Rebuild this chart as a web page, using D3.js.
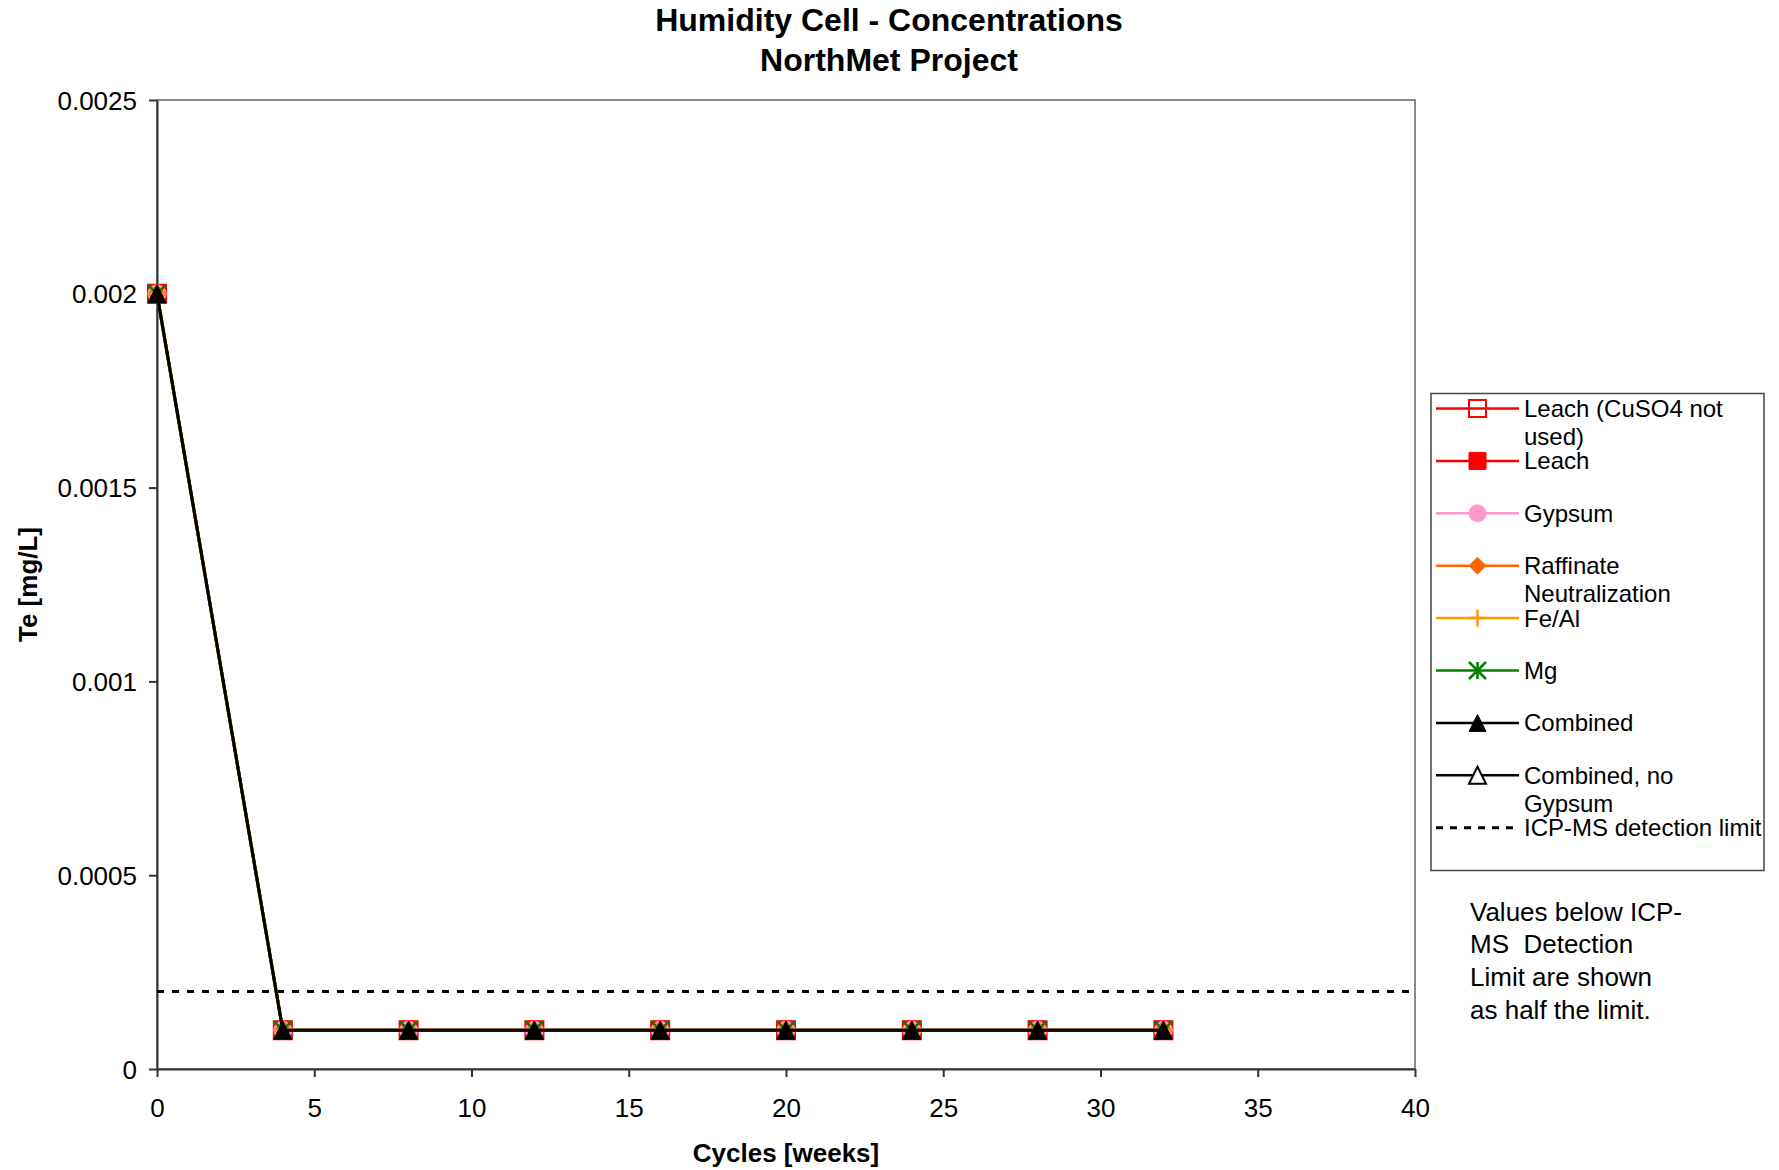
<!DOCTYPE html>
<html><head><meta charset="utf-8">
<script src="https://cdn.jsdelivr.net/npm/d3@7"></script>
<style>
body{margin:0;background:#fff}
svg{display:block;font-family:"Liberation Sans",Arial,Helvetica,sans-serif}
</style>
</head><body>
<svg id="chart" width="1779" height="1170"></svg>
<script>
// ---------- data ----------
const weeks = [0, 4, 8, 12, 16, 20, 24, 28, 32];
const leachNoCuSO4 = [0.002, 0.0001, 0.0001, 0.0001, 0.0001, 0.0001, 0.0001, 0.0001, 0.0001];
const leach        = [0.002, 0.0001, 0.0001, 0.0001, 0.0001, 0.0001, 0.0001, 0.0001, 0.0001];
const gypsum       = [0.002, 0.0001, 0.0001, 0.0001, 0.0001, 0.0001, 0.0001, 0.0001, 0.0001];
const raffinate    = [0.002, 0.0001, 0.0001, 0.0001, 0.0001, 0.0001, 0.0001, 0.0001, 0.0001];
const feAl         = [0.002, 0.0001, 0.0001, 0.0001, 0.0001, 0.0001, 0.0001, 0.0001, 0.0001];
const mg           = [0.002, 0.0001, 0.0001, 0.0001, 0.0001, 0.0001, 0.0001, 0.0001, 0.0001];
const combined     = [0.002, 0.0001, 0.0001, 0.0001, 0.0001, 0.0001, 0.0001, 0.0001, 0.0001];
const combinedNoGypsum = [];
const detectionLimitX = [0, 40];
const detectionLimitY = [0.0002, 0.0002];

const xTicks = [0, 5, 10, 15, 20, 25, 30, 35, 40];
const yTicks = [0, 0.0005, 0.001, 0.0015, 0.002, 0.0025];
const yTickLabels = ["0", "0.0005", "0.001", "0.0015", "0.002", "0.0025"];

const seriesNames = ["Leach (CuSO4 not|used)", "Leach", "Gypsum", "Raffinate|Neutralization", "Fe/Al", "Mg", "Combined", "Combined, no|Gypsum"];
const seriesValues = [leachNoCuSO4, leach, gypsum, raffinate, feAl, mg, combined, combinedNoGypsum];
const seriesColors = ["#FF0000", "#FF0000", "#FF99CC", "#FF6600", "#FF9900", "#008000", "#000000", "#000000"];
const seriesMarkers = ["squareOpen", "square", "circle", "diamond", "plus", "star", "triangle", "triangleOpen"];
const noteLines = ["Values below ICP-", "MS  Detection", "Limit are shown", "as half the limit."];

// ---------- layout ----------
const svg = d3.select("#chart");
const P = {left: 157, right: 1415, top: 100, bottom: 1069};

const x = d3.scaleLinear().domain([0, 40]).range([P.left, P.right]);
const y = d3.scaleLinear().domain([0, 0.0025]).range([P.bottom, P.top]);

svg.append("rect").attr("width", 1779).attr("height", 1170).attr("fill", "#fff");

// plot border
svg.append("rect").attr("x", P.left).attr("y", P.top)
  .attr("width", P.right - P.left).attr("height", P.bottom - P.top)
  .attr("fill", "#fff").attr("stroke", "#888").attr("stroke-width", 2);

// axes
const yAxis = svg.append("g").attr("transform", `translate(${P.left},0)`)
  .call(d3.axisLeft(y).tickValues(yTicks).tickFormat((d, i) => yTickLabels[i]).tickSize(8).tickPadding(12).tickSizeOuter(0));
const xAxis = svg.append("g").attr("transform", `translate(0,${P.bottom})`)
  .call(d3.axisBottom(x).tickValues(xTicks).tickFormat(d3.format("d")).tickSize(8).tickPadding(22).tickSizeOuter(0));
[yAxis, xAxis].forEach(a => {
  a.selectAll("path.domain").attr("stroke", "#333").attr("stroke-width", 2);
  a.selectAll(".tick line").attr("stroke", "#333").attr("stroke-width", 2);
  a.selectAll("text").attr("font-size", 26).attr("fill", "#000").attr("font-family", "Liberation Sans, Arial, sans-serif");
});
yAxis.selectAll("text").attr("dy", "0.35em");

// ---------- markers ----------
function markerPath(type, s) {
  const h = s / 2;
  switch (type) {
    case "square": case "squareOpen":
      return `M${-h},${-h}H${h}V${h}H${-h}Z`;
    case "circle":
      return d3.symbol(d3.symbolCircle, Math.PI * h * h)();
    case "diamond":
      return `M0,${-h}L${h},0L0,${h}L${-h},0Z`;
    case "triangle": case "triangleOpen":
      return `M0,${-h}L${h},${h}L${-h},${h}Z`;
    case "plus":
      return `M0,${-h}V${h}M${-h},0H${h}`;
    case "star":
      return `M${-h},${-h}L${h},${h}M${-h},${h}L${h},${-h}M0,${-h}V${h}`;
  }
}
function drawMarker(g, type, color, s, cx, cy) {
  const p = g.append("path").attr("d", markerPath(type, s)).attr("transform", `translate(${cx},${cy})`);
  if (type === "squareOpen" || type === "triangleOpen") {
    p.attr("fill", type === "triangleOpen" ? "#fff" : "none").attr("stroke", color).attr("stroke-width", 2);
  } else if (type === "plus" || type === "star") {
    p.attr("fill", "none").attr("stroke", color).attr("stroke-width", 2.5);
  } else {
    p.attr("fill", color).attr("stroke", color).attr("stroke-width", 1);
  }
}

// detection limit line
const line = d3.line().x(d => x(d[0])).y(d => y(d[1]));
svg.append("path").datum(detectionLimitX.map((v, i) => [v, detectionLimitY[i]]))
  .attr("d", line).attr("fill", "none").attr("stroke", "#000")
  .attr("stroke-width", 3).attr("stroke-dasharray", "7,8");

// series
const plotG = svg.append("g");
seriesValues.forEach((vals, si) => {
  if (!vals.length) return;
  const pts = vals.map((v, i) => [weeks[i], v]);
  plotG.append("path").datum(pts).attr("d", line).attr("fill", "none")
    .attr("stroke", seriesColors[si]).attr("stroke-width", 3);
  pts.forEach(p => drawMarker(plotG, seriesMarkers[si], seriesColors[si], 18, x(p[0]), y(p[1])));
});

// ---------- titles ----------
svg.append("text").attr("x", 889).attr("y", 31).attr("text-anchor", "middle")
  .attr("font-size", 32).attr("font-weight", "bold").text("Humidity Cell - Concentrations");
svg.append("text").attr("x", 889).attr("y", 71).attr("text-anchor", "middle")
  .attr("font-size", 32).attr("font-weight", "bold").text("NorthMet Project");
svg.append("text").attr("x", (P.left + P.right) / 2).attr("y", 1162).attr("text-anchor", "middle")
  .attr("font-size", 26).attr("font-weight", "bold").text("Cycles [weeks]");
svg.append("text").attr("transform", `translate(37,${(P.top + P.bottom) / 2}) rotate(-90)`)
  .attr("text-anchor", "middle").attr("font-size", 26).attr("font-weight", "bold").text("Te [mg/L]");

// ---------- legend ----------
const L = {x: 1431, y: 393.5, w: 333, h: 477, row0: 408.5, step: 52.4};
svg.append("rect").attr("x", L.x).attr("y", L.y).attr("width", L.w).attr("height", L.h)
  .attr("fill", "#fff").attr("stroke", "#444").attr("stroke-width", 1.5);
const legG = svg.append("g");
const legendNames = seriesNames.concat(["ICP-MS detection limit"]);
legendNames.forEach((name, i) => {
  const cy = L.row0 + i * L.step;
  if (i < seriesNames.length) {
    legG.append("line").attr("x1", 1436).attr("x2", 1519).attr("y1", cy).attr("y2", cy)
      .attr("stroke", seriesColors[i]).attr("stroke-width", 2.5);
    drawMarker(legG, seriesMarkers[i], seriesColors[i], 17, 1477.5, cy);
  } else {
    legG.append("line").attr("x1", 1436).attr("x2", 1519).attr("y1", cy).attr("y2", cy)
      .attr("stroke", "#000").attr("stroke-width", 3).attr("stroke-dasharray", "7,7");
  }
  const t = legG.append("text").attr("x", 1524).attr("y", cy).attr("font-size", 24);
  name.split("|").forEach((ln, k) => {
    t.append("tspan").attr("x", 1524).attr("y", cy + k * 28).attr("dy", "0.35em").text(ln);
  });
});

// ---------- note ----------
const note = svg.append("text").attr("font-size", 26).attr("xml:space", "preserve").style("white-space", "pre");
noteLines.forEach((ln, k) => {
  note.append("tspan").attr("x", 1470).attr("y", 911.5 + k * 32.8).attr("dy", "0.35em").text(ln);
});
</script>
</body></html>
